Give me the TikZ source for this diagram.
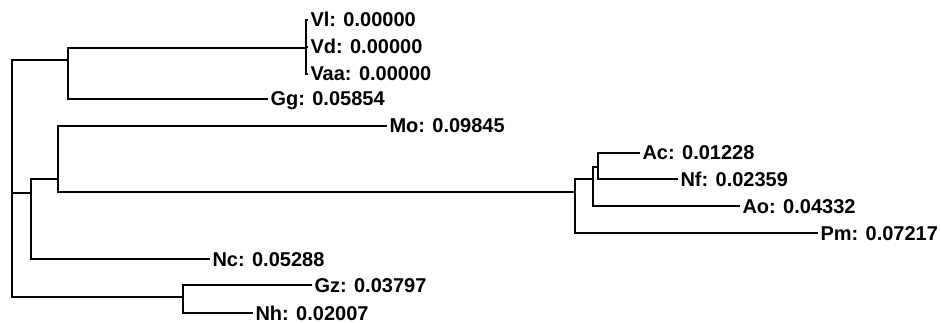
\documentclass[tikz,border=0pt]{standalone}
\usepackage{fontspec}
\setmainfont{Liberation Sans}
\usepackage{tikz}

\begin{document}
\begin{tikzpicture}[x=1pt,y=-1pt,line width=1.1pt,
    leaf/.style={anchor=west,inner xsep=2.5pt,inner ysep=0pt,outer sep=0pt,
      text height=14pt,text depth=0pt,font=\bfseries\fontsize{20}{20}\selectfont}]
  \useasboundingbox (0,0) rectangle (941,323);
  \coordinate (root) at (12,193);
  \coordinate (a) at (68,60);
  \coordinate (v) at (306,48);
  \coordinate (b) at (31,193);
  \coordinate (c) at (58,179);
  \coordinate (e) at (575,192);
  \coordinate (f) at (593,179);
  \coordinate (g) at (598,167);
  \coordinate (d) at (183,297);
  \node[leaf] (vl) at (308,20) {Vl: 0.00000};
  \node[leaf] (vd) at (308,47) {Vd: 0.00000};
  \node[leaf] (vaa) at (308,74) {Vaa: 0.00000};
  \node[leaf] (gg) at (268,99) {Gg: 0.05854};
  \node[leaf] (mo) at (387,126) {Mo: 0.09845};
  \node[leaf] (ac) at (640,153) {Ac: 0.01228};
  \node[leaf] (nf) at (678,179) {Nf: 0.02359};
  \node[leaf] (ao) at (740,206) {Ao: 0.04332};
  \node[leaf] (pm) at (818,233) {Pm: 0.07217};
  \node[leaf] (nc) at (210,259) {Nc: 0.05288};
  \node[leaf] (gz) at (312,285) {Gz: 0.03797};
  \node[leaf] (nh) at (253,313) {Nh: 0.02007};
  \foreach \p/\q in {root/a,root/b,root/d,a/v,b/c,c/e,e/f,f/g}
    \draw (\p) |- (\q);
  \foreach \p/\q in {v/vl,v/vd,v/vaa,a/gg,c/mo,g/ac,g/nf,f/ao,e/pm,b/nc,d/gz,d/nh}
    \draw (\p) |- (\q.west);
\end{tikzpicture}
\end{document}
